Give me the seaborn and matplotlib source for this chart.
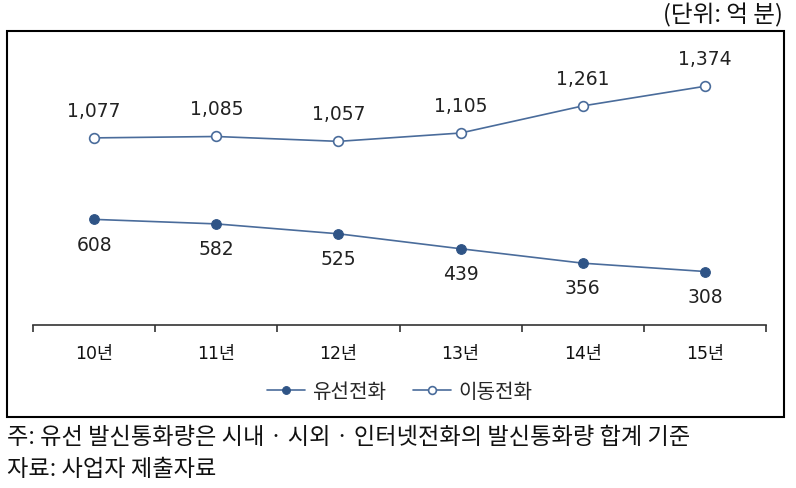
import numpy as np
import pandas as pd
import matplotlib
matplotlib.use("Agg")
import matplotlib.pyplot as plt
import seaborn as sns
from matplotlib.patches import Rectangle

# Data
years = ["10년", "11년", "12년", "13년", "14년", "15년"]
wired = [608, 582, 525, 439, 356, 308]          # 유선전화
mobile = [1077, 1085, 1057, 1105, 1261, 1374]   # 이동전화
series_names = ["유선전화", "이동전화"]

sns.set_theme(style="white")
plt.rcParams["font.family"] = ["Noto Sans CJK KR", "DejaVu Sans"]
MIXED = ["DejaVu Sans", "Noto Sans CJK KR"]

LINE = "#4a6c9b"
DOT = "#2f5486"

df = pd.DataFrame({
    "pos": list(range(len(years))) * 2,
    "value": wired + mobile,
    "series": [series_names[0]] * len(years) + [series_names[1]] * len(years),
})

fig = plt.figure(figsize=(7.96, 4.89), dpi=100)
ax = fig.add_axes([0.0415, 0.3333, 0.9208, 0.5685])

d_w = df[df["series"] == series_names[0]]
d_m = df[df["series"] == series_names[1]]
sns.lineplot(data=d_w, x="pos", y="value", ax=ax, color=LINE, lw=1.2,
             marker="o", markersize=7, markerfacecolor=DOT, markeredgecolor=DOT,
             label=series_names[0])
sns.lineplot(data=d_m, x="pos", y="value", ax=ax, color=LINE, lw=1.2,
             marker="o", markersize=7, markerfacecolor="white", markeredgecolor=LINE,
             markeredgewidth=1.2, label=series_names[1])

# value labels
for i, v in enumerate(mobile):
    ax.annotate(f"{v:,}", (i, v), xytext=(0, 13), textcoords="offset points",
                ha="center", va="bottom", fontsize=13.5, color="#222222",
                family=["DejaVu Sans"])
for i, v in enumerate(wired):
    ax.annotate(f"{v:,}", (i, v), xytext=(0, -11), textcoords="offset points",
                ha="center", va="top", fontsize=13.5, color="#222222",
                family=["DejaVu Sans"])

ax.set_xlim(-0.5, len(years) - 0.5)
ax.set_ylim(0, 1600)
ax.set_yticks([])
ax.set_xticks(np.arange(-0.5, len(years), 1.0))
ax.set_xticklabels([])
ax.set_xticks(range(len(years)), minor=True)
ax.set_xticklabels(years, minor=True, fontsize=12.5, color="#111111", family=MIXED)
ax.tick_params(axis="x", which="major", direction="out", length=5, width=1.2, color="#333333", bottom=True)
ax.tick_params(axis="x", which="minor", length=0, pad=14)
ax.set_xlabel("")
ax.set_ylabel("")
for s in ["top", "right", "left"]:
    ax.spines[s].set_visible(False)
ax.spines["bottom"].set_color("#333333")
ax.spines["bottom"].set_linewidth(1.2)
ax.patch.set_alpha(0)

ax.legend(loc="center", bbox_to_anchor=(0.5, -0.24), ncol=2, frameon=False,
          prop={"size": 14.5}, handlelength=1.9, columnspacing=1.3, handletextpad=0.35,
          markerscale=0.8)

# outer frame
fig.patches.append(Rectangle((0.0088, 0.1452), 0.976, 0.789, transform=fig.transFigure,
                             fill=False, edgecolor="black", lw=1.5))

fig.text(0.984, 0.968, "(단위: 억 분)", ha="right", va="center", fontsize=17, color="#111111")
fig.text(0.009, 0.106, "주: 유선 발신통화량은 시내 · 시외 · 인터넷전화의 발신통화량 합계 기준",
         ha="left", va="center", fontsize=16.7, color="#111111")
fig.text(0.009, 0.039, "자료: 사업자 제출자료", ha="left", va="center", fontsize=16.7, color="#111111")

fig.savefig("out.png", dpi=100)
